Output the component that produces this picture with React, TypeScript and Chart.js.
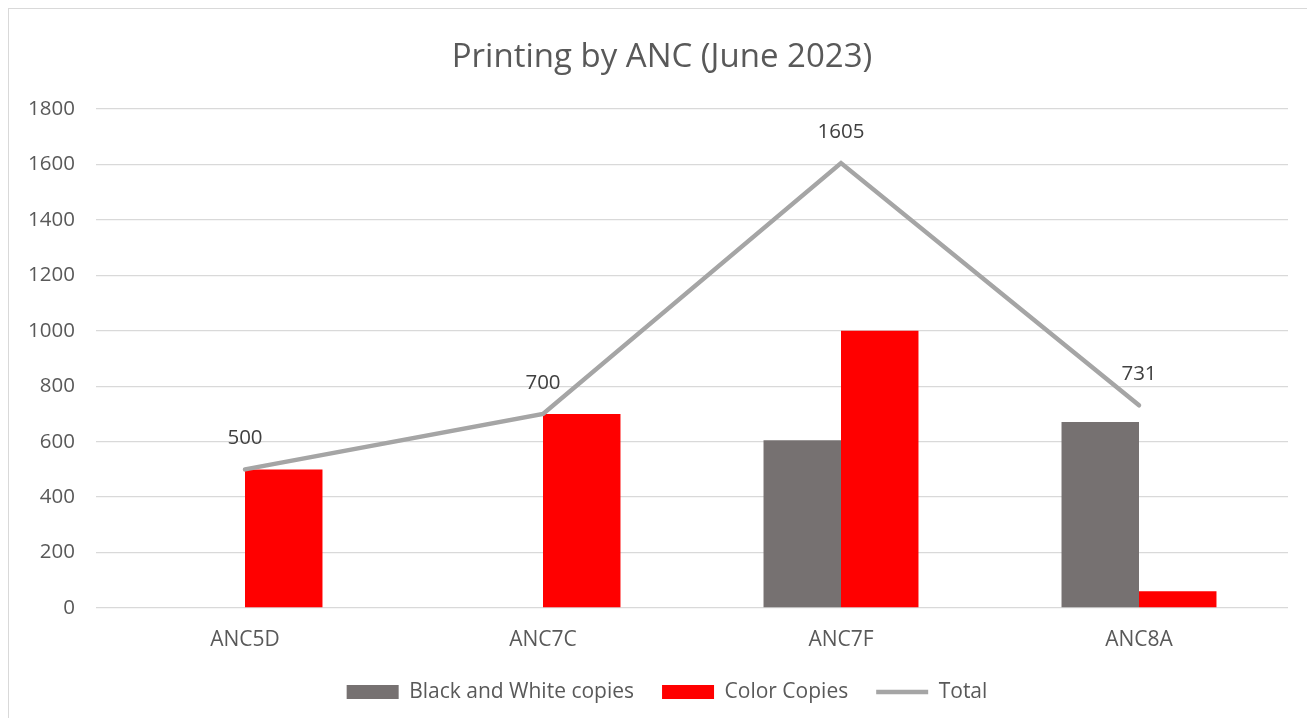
import React, { useEffect, useRef } from "react";
import { Chart, registerables } from "chart.js";

Chart.register(...registerables);

const categories = ["ANC5D", "ANC7C", "ANC7F", "ANC8A"];
const bwCopies = [0, 0, 605, 671];
const colorCopies = [500, 700, 1000, 60];
const totals = [500, 700, 1605, 731];
const yTicks = { min: 0, max: 1800, step: 200 };

const FONT = "'Open Sans', sans-serif";

const lineLabels = {
  id: "lineLabels",
  afterLayout(chart: any) {
    if (chart.legend) {
      chart.legend.left += 5;
      chart.legend.right += 5;
    }
  },
  afterDatasetsDraw(chart: any) {
    const ctx = chart.ctx;
    chart.data.datasets.forEach((ds: any, i: number) => {
      if (ds.type !== "line") return;
      const meta = chart.getDatasetMeta(i);
      ctx.save();
      ctx.font = `20.5px ${FONT}`;
      ctx.fillStyle = "#404040";
      ctx.textAlign = "center";
      ctx.textBaseline = "middle";
      meta.data.forEach((pt: any, j: number) => {
        ctx.fillText(String(ds.data[j]), pt.x, pt.y - 31);
      });
      ctx.restore();
    });
  },
};

export default function App() {
  const ref = useRef<HTMLCanvasElement>(null);
  useEffect(() => {
    if (!ref.current) return;
    const chart = new Chart(ref.current, {
      type: "bar",
      data: {
        labels: categories,
        datasets: [
          {
            type: "bar",
            label: "Black and White copies",
            data: bwCopies,
            backgroundColor: "#767171",
            borderWidth: 0,
            order: 1,
            pointStyle: "rect",
          } as any,
          {
            type: "bar",
            label: "Color Copies",
            data: colorCopies,
            backgroundColor: "#ff0000",
            borderWidth: 0,
            order: 1,
            pointStyle: "rect",
          } as any,
          {
            type: "line",
            label: "Total",
            data: totals,
            borderColor: "#a5a5a5",
            backgroundColor: "#a5a5a5",
            borderWidth: 4.5,
            borderCapStyle: "round",
            pointRadius: 0,
            pointHoverRadius: 0,
            tension: 0,
            order: 0,
            pointStyle: "line",
          } as any,
        ],
      },
      options: {
        animation: false,
        responsive: false,
        maintainAspectRatio: false,
        datasets: { bar: { categoryPercentage: 0.52, barPercentage: 1 } },
        layout: { padding: { top: 29, right: 0, bottom: 5.5, left: 0 } },
        plugins: {
          title: {
            display: true,
            text: "Printing by ANC (June 2023)",
            color: "#595959",
            font: { family: FONT, size: 33, weight: "normal" },
            padding: { top: 0, bottom: 31.4 },
          },
          legend: {
            position: "bottom",
            labels: {
              usePointStyle: true,
              pointStyleWidth: 52,
              boxHeight: 14,
              color: "#595959",
              font: { family: FONT, size: 21 },
              padding: 28,
              sort: (a: any, b: any) => a.datasetIndex - b.datasetIndex,
            },
          },
          tooltip: { enabled: false },
        },
        scales: {
          x: {
            grid: { display: false, drawTicks: false },
            border: { display: false },
            ticks: { color: "#595959", font: { family: FONT, size: 21 }, padding: 19 },
            afterFit: (s: any) => {
              s.height = 45.5;
            },
          },
          y: {
            min: yTicks.min,
            max: yTicks.max,
            grid: { color: "#d9d9d9", lineWidth: 1.3, drawTicks: false },
            border: { display: false },
            ticks: {
              stepSize: yTicks.step,
              color: "#595959",
              font: { family: FONT, size: 20.5 },
              padding: 21,
              callback: (v: any) => String(v),
            },
            afterFit: (s: any) => {
              s.width = 87;
            },
          },
          yRight: {
            position: "right",
            min: yTicks.min,
            max: yTicks.max,
            grid: { display: false, drawTicks: false },
            border: { display: false },
            ticks: { display: false },
            afterFit: (s: any) => {
              s.width = 27;
            },
          },
        },
      },
      plugins: [lineLabels],
    });
    return () => chart.destroy();
  }, []);
  return (
    <div
      style={{
        width: 1306,
        height: 709,
        borderLeft: "1px solid #d9d9d9",
        borderTop: "1px solid #d9d9d9",
        background: "#fff",
      }}
    >
      <canvas ref={ref} width={1306} height={709} style={{ display: "block" }} />
    </div>
  );
}
